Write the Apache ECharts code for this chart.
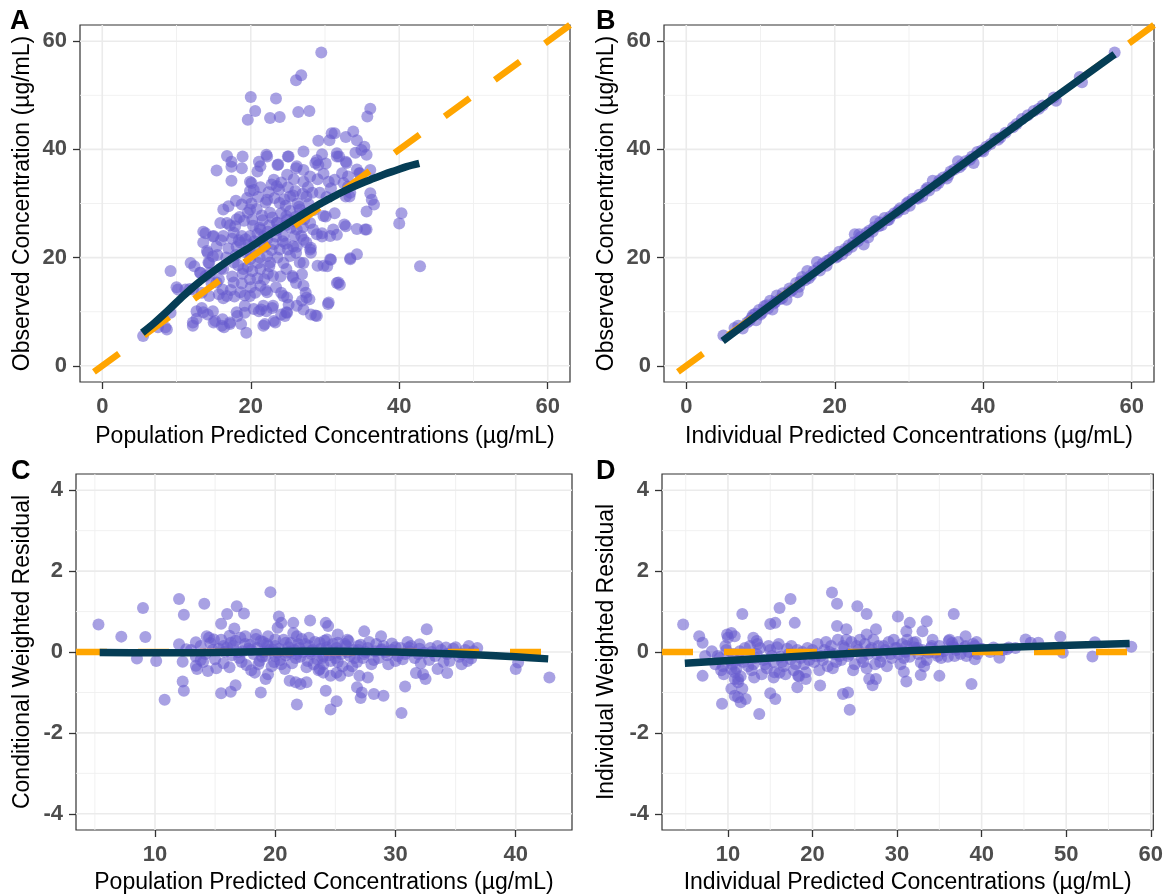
<!DOCTYPE html>
<html><head><meta charset="utf-8">
<script src="https://cdn.jsdelivr.net/npm/echarts@6/dist/echarts.min.js"></script>
<style>html,body{margin:0;padding:0;background:#fff}#c{width:1166px;height:895px}</style>
</head><body><div id="c"></div>
<script>
// ---------- DATA ----------
const ticksAB = [0, 20, 40, 60];
const ticksC_x = [10, 20, 30, 40];
const ticksD_x = [10, 20, 30, 40, 50, 60];
const ticksRes_y = [-4, -2, 0, 2, 4];

// Panel A: PRED vs DV
const pointsA = [
[29.5,57.9],[26.1,52.8],[26.8,53.7],[20.0,49.7],[23.4,49.4],[20.6,47.1],[19.6,45.5],[22.6,45.8],[23.9,46.0],[26.4,46.9],[27.9,47.1],[36.1,47.5],[35.7,46.1],
[29.1,41.6],[30.6,41.7],[31.3,43.0],[32.8,42.3],[33.8,43.3],[34.3,41.7],[35.3,40.5],[34.1,39.4],[35.6,39.0],[34.9,39.9],[31.6,39.3],[31.9,38.7],[32.8,37.7],
[29.6,39.1],[28.9,38.0],[29.1,37.1],[30.1,37.4],[27.1,39.6],[22.1,39.0],[21.1,37.7],[20.9,35.9],[23.6,37.1],[25.0,38.7],[16.8,38.8],[17.4,37.7],[17.4,36.8],
[18.9,38.7],[18.8,36.5],[15.4,36.1],[17.4,34.2],[26.1,36.5],[27.1,36.2],[27.1,34.0],[19.9,34.0],[20.4,32.5],[23.1,34.4],[24.1,33.9],[24.9,35.3],[31.3,34.4],
[32.3,35.6],[33.1,35.0],[34.6,35.6],[36.1,36.2],[32.8,31.3],[33.3,31.3],[33.1,33.1],[36.1,31.9],[36.3,30.7],[36.6,29.8],[35.6,28.5],[40.3,28.2],[40.0,26.3],
[32.6,26.1],[32.8,25.8],[34.3,25.3],[35.6,25.2],[33.4,19.9],[34.3,20.6],[29.0,18.5],[30.3,18.4],[30.8,19.6],[31.6,15.3],[32.0,15.0],[30.5,11.7],[42.8,18.4],
[30.1,27.6],[31.3,28.2],[29.6,24.5],[31.1,25.2],[31.6,24.2],[28.4,25.2],[29.6,23.9],[27.1,23.3],[28.1,21.8],[28.1,20.9],[27.1,19.0],[26.1,20.9],[26.9,16.9],
[25.6,16.6],[26.1,15.3],[27.4,13.5],[27.9,12.3],[26.9,12.0],[27.1,10.4],[28.1,9.5],[28.9,9.2],[24.9,12.6],[25.1,11.3],[24.1,9.5],[24.9,9.8],[24.6,9.2],
[23.1,8.3],[21.7,7.4],[22.9,10.7],[22.1,10.1],[21.1,10.1],[21.4,10.4],[19.4,6.1],[18.7,7.7],[18.2,9.2],[19.2,9.8],[17.2,7.7],[16.4,7.1],[16.2,8.6],[15.2,8.3],
[14.9,10.1],[14.2,9.5],[13.4,10.7],[12.7,10.1],[12.2,8.0],[12.2,7.4],[9.2,17.5],[10.2,14.1],[11.2,14.1],[12.2,14.1],[8.7,6.7],[7.5,7.1],[5.5,5.5],[9.2,9.8],
[11.9,19.0],[12.4,18.4],[13.6,24.8],[13.9,24.5],[14.9,23.9],[14.2,20.9],[14.9,20.2],[14.4,19.0],[13.2,17.2],[13.9,16.6],[14.7,15.3],[15.7,16.0],[13.4,13.5],
[14.4,12.9],[15.7,13.2],[16.2,14.1],[11.8,14.2],[10.0,14.5],[16.3,28.9],[16.8,26.4],[15.0,24.0],[14.1,21.2],[18.8,29.8],[20.1,33.8],[19.9,32.3],[21.3,36.9],
[22.2,38.7],[23.7,37.2],[25.1,38.7],[26.2,36.9],[28.7,37.5],[30.9,43.0],[31.6,38.7],[32.9,37.5],[34.3,36.3],[34.7,35.6],[33.4,32.0],[32.5,33.8],[35.4,25.2],
[30.7,24.0],[28.9,24.3],[30.7,19.7],[29.8,18.5],[31.8,15.4],[30.4,11.4],[33.4,19.7],[28.7,9.3],[27.5,12.6],[24.8,9.9],[23.3,8.0],[21.9,7.7],[23.0,11.1],
[21.7,11.1],[20.4,10.5],[19.2,11.1],[18.1,9.9],[17.2,8.0],[16.1,7.4],[15.0,8.0],[13.6,9.9],[12.7,8.7],[8.5,7.1],[25.7,22.1],[28.0,21.5],[26.6,19.1],
[24.8,17.9],[25.7,16.3],[27.1,14.8],[24.4,12.9],[21.3,14.8],[19.9,16.0],[17.7,15.4],[18.6,13.6],[16.8,12.9],[15.4,15.4],[14.5,17.2],[17.7,19.1],[19.9,19.7],
[22.2,20.3],[23.9,21.5],[18.6,22.8],[16.3,24.0],[21.3,25.2],[23.5,26.4],[24.8,27.7],[26.6,28.9],[27.5,31.3],[29.3,32.0],[25.3,31.3],[23.5,33.2],[22.2,30.7],
[19.9,28.9],[18.1,27.1],[15.9,26.4],[22.6,28.3],[23.9,30.1],[17.7,24.6],[19.9,24.0],[22.2,23.4],[24.4,24.0],[26.2,25.2],[28.0,26.4],[29.8,27.7],[15.4,22.1],
[13.6,22.8],[14.3,19.1],[13.2,17.2],[16.3,17.9],[19.0,17.9],[21.3,17.9],[23.0,16.6],[22.2,13.6],[19.9,12.9],[26.2,11.1],[22.6,19.1],[25.3,20.3],[27.5,22.8],
[17.2,26.0],[18.5,27.5],[19.6,28.3],[20.2,27.0],[20.8,29.0],[21.5,27.8],[22.0,30.2],[23.2,31.0],[24.5,30.8],[25.7,31.5],[26.3,30.0],[27.0,31.8],[28.3,32.0],
[30.2,31.2],[30.8,32.8],[17.5,23.5],[18.1,22.0],[18.8,24.0],[20.5,23.0],[21.2,25.5],[21.8,24.0],[22.5,26.0],[23.6,26.5],[24.9,27.0],[25.4,25.5],[26.0,27.5],
[27.3,28.2],[28.5,28.8],[16.0,18.0],[16.7,20.0],[18.0,20.5],[19.3,21.0],[20.6,21.5],[21.2,20.0],[21.9,22.0],[23.1,22.5],[24.3,23.0],[25.0,21.5],[26.2,22.0],
[26.8,24.0],[17.5,16.5],[18.9,17.0],[20.2,17.5],[20.9,16.2],[22.3,17.0],[24.4,19.0],[16.3,12.5],[17.8,12.8],[19.2,13.0],[20.6,13.5],[22.0,14.0],[23.4,14.5],
[24.1,13.5],[21.3,33.0],[22.8,33.5],[25.0,33.0],[25.8,34.5],[28.0,35.0],[29.0,34.5],[29.8,35.5],[30.5,34.0],[18.0,30.5],[19.5,31.0],[17.0,29.5],
[17.9,25.8],[18.4,23.2],[19.1,26.8],[19.7,22.4],[20.3,25.9],[20.9,24.4],[21.6,26.9],[22.3,24.8],[22.9,27.4],[23.5,25.1],[24.1,28.2],[24.7,26.0],[25.3,28.6],
[25.9,26.7],[26.5,29.4],[27.2,27.1],[27.8,29.9],[20.1,30.0],[21.0,31.2],[22.4,32.1],[23.8,32.6],[24.7,29.6],[26.0,32.3],[27.7,33.0],[19.3,23.4],[20.0,20.8],
[21.5,22.8],[22.8,21.4],[23.4,23.9],[24.7,22.6],[25.9,24.0],[27.0,25.6],[18.3,18.6],[19.6,18.3],[21.0,19.0],[22.5,18.4],[23.6,20.0],[17.0,21.7],[16.0,23.2],
[15.5,20.5],[18.8,15.2],[21.8,16.0],[24.0,16.5],[17.3,14.0],[20.0,14.5]
];
const smoothA = [[5.4,6.1],[7,7.9],[9,10.4],[10.9,12.9],[13,15.4],[15.4,17.9],[17.6,20.0],[19.9,21.9],[22,23.8],[24.4,25.8],[26.6,27.7],
  [28.9,29.6],[30.5,30.8],[32,31.9],[33.5,32.9],[35,33.8],[36.5,34.6],[38,35.4],[39.5,36.1],[41,36.8],[42.7,37.4]];

// Panel B: IPRED vs DV
const pointsB = [
[5.0,5.6],[6.5,7.0],[7.0,7.4],[7.6,6.9],[8.2,8.0],[8.8,8.9],[9.3,9.6],[9.4,8.4],[9.8,10.3],[10.2,9.8],[10.5,11.0],[11.0,10.6],[11.3,12.0],[11.6,10.4],
[11.8,11.5],[12.2,13.0],[12.6,12.3],[13.0,13.4],[13.5,12.2],[13.9,14.3],[14.3,14.0],[14.8,15.3],[15.0,13.6],[15.2,14.6],[15.6,16.4],[16.0,15.8],[16.3,17.5],
[16.8,16.7],[17.2,17.5],[17.6,19.2],[18.0,17.6],[18.4,18.9],[18.9,18.5],[19.3,19.6],[19.8,20.2],[20.2,20.0],[20.6,21.1],[21.0,20.6],[21.4,21.6],[21.9,22.3],
[22.3,22.0],[22.7,24.3],[23.1,23.0],[23.5,23.8],[23.9,22.4],[24.3,24.6],[24.7,25.0],[25.1,24.8],[25.5,26.7],[25.9,25.8],[26.3,26.0],[26.7,27.3],[27.1,26.9],
[27.5,27.6],[28.0,28.2],[28.4,28.3],[28.8,29.1],[29.3,29.0],[29.7,30.0],[30.1,29.6],[30.5,30.9],[31.0,31.0],[31.4,31.6],[31.8,31.3],[32.3,32.6],[32.7,32.4],
[33.2,34.2],[33.6,33.3],[34.1,34.3],[34.6,34.8],[35.1,34.6],[35.6,35.9],[36.1,36.3],[36.6,37.8],[37.1,37.1],[37.6,37.8],[38.2,38.1],[38.7,37.5],[39.2,39.5],
[39.8,39.8],[40.4,40.5],[41.0,41.0],[41.6,42.0],[42.3,42.2],[43.0,43.1],[44.0,44.1],[45.2,45.6],[46.0,46.3],[46.8,47.1],[47.5,47.5],[49.5,49.6],[49.8,49.0],
[53.0,53.4],[53.3,52.4],[57.7,57.9],[8.5,8.3],[9.0,9.4],[10.0,9.5],[10.8,11.2],[12.0,11.8],[12.9,12.5],[14.0,13.7],[15.4,15.6],[16.5,16.2],[17.8,18.2],
[19.0,19.4],[20.4,20.3],[21.6,21.3],[22.5,22.8],[23.3,24.3],[24.5,23.7],[25.3,25.6],[26.1,26.5],[27.3,27.0],[28.6,28.7],[29.9,30.3],[31.2,30.9],[32.5,32.9],
[34.0,33.8],[35.3,35.2],[36.8,36.7],[38.5,38.7],[40.0,39.6],[42.0,41.8],[44.5,44.7],[48.0,48.1]
];
const smoothB = [[4.9,4.6],[15,14.9],[30,30.0],[45,45.0],[57.7,57.6]];

// Panel C: PRED vs CWRES
const pointsC = [
[5.3,0.68],[7.2,0.38],[9.0,1.09],[9.2,0.37],[8.5,-0.16],[10.1,-0.22],[10.8,-1.18],[12.0,1.31],[12.4,0.92],[14.1,1.19],[12.3,-0.73],[12.4,-0.96],[15.5,0.70],
[16.0,0.94],[16.8,1.13],[17.4,0.95],[16.6,0.58],[15.5,-1.02],[16.3,-0.98],[16.7,-0.82],[18.8,-1.0],[19.6,1.48],[20.3,0.88],[20.2,0.60],[20.5,0.72],[21.5,0.72],
[21.5,0.47],[22.9,0.78],[24.2,0.72],[24.4,0.64],[25.2,0.43],[27.4,0.51],[28.8,0.39],[32.6,0.56],[21.2,-0.71],[21.7,-0.75],[22.1,-0.79],[22.6,-0.75],[21.8,-1.30],
[24.2,-0.96],[24.6,-1.42],[25.1,-1.22],[26.8,-0.87],[27.1,-1.14],[27.2,-1.0],[27.0,-0.59],[27.7,-0.63],[28.2,-1.04],[29.0,-1.08],[30.5,-1.51],[30.8,-0.85],
[31.7,-0.52],[32.3,-0.55],[32.5,-0.67],[33.5,-0.42],[34.3,-0.52],[40.0,-0.42],[40.2,-0.26],[42.8,-0.63],[32.8,-0.2],[34.5,-0.22],[35.5,-0.3],[36.3,-0.16],
[36.1,0.15],[34.2,0.11],[32.0,0.19],[31.1,0.11],[29.7,0.21],[28.9,0.07],[26.1,-0.47],[25.1,-0.51],[25.4,-0.59],[23.7,-0.42],[24.0,-0.51],[24.6,-0.59],
[19.4,-0.55],[19.2,-0.67],[18.3,-0.51],[14.4,-0.47],[13.4,-0.34],[13.5,-0.42],[12.3,-0.24],[12.6,0.07],[12.0,0.19],[13.4,0.24],[14.3,0.39],[14.9,0.31],
[15.7,0.15],[16.3,0.23],[17.1,0.35],[17.5,0.39],[18.4,0.43],[18.8,0.27],[19.4,0.39],[20.0,0.31],[20.9,0.23],[21.8,0.39],[22.8,0.35],[23.7,0.23],[24.3,0.31],
[25.2,0.23],[26.1,0.27],[26.9,0.15],
[13.0,0.05],[13.4,-0.12],[13.8,0.15],[14.2,-0.05],[14.6,0.22],[15.0,-0.18],[15.3,0.08],[15.7,-0.28],[16.0,0.12],[16.4,-0.08],[16.7,0.28],[17.0,-0.15],
[17.3,0.02],[17.6,-0.32],[17.9,0.18],[18.2,-0.05],[18.5,0.1],[18.7,-0.22],[19.0,0.25],[19.2,-0.1],[19.5,0.05],[19.7,-0.35],[20.0,0.15],[20.2,-0.02],[20.4,-0.2],
[20.7,0.3],[20.9,-0.08],[21.1,0.12],[21.4,-0.28],[21.6,0.05],[21.9,0.2],[22.1,-0.12],[22.3,0.0],[22.6,-0.38],[22.8,0.15],[23.0,-0.05],[23.3,0.25],[23.5,-0.18],
[23.8,0.08],[24.0,-0.3],[24.3,0.12],[24.5,-0.08],[24.8,0.2],[25.0,-0.15],[25.3,0.02],[25.6,-0.35],[25.9,0.15],[26.2,-0.1],[26.5,0.05],[26.8,-0.25],[27.1,0.18],
[27.4,-0.05],[27.7,0.1],[28.0,-0.3],[28.3,0.02],[28.6,-0.15],[29.0,0.15],[29.3,-0.08],[29.7,0.05],[30.0,-0.22],[30.4,0.1],[30.8,-0.05],[31.2,0.02],[31.6,-0.15],
[32.0,0.08],[32.4,-0.02],[32.9,0.1],[33.3,-0.1],[33.8,0.05],[34.3,-0.05],[34.8,0.08],[35.3,-0.12],[35.8,0.05],[36.3,-0.05],[36.8,0.1],[36.0,-0.22],
[14.0,-0.25],[14.8,0.05],[15.5,0.3],[16.2,-0.38],[16.9,0.0],[17.5,0.2],[18.0,-0.45],[18.4,0.32],[18.9,-0.12],[19.4,0.15],[19.9,-0.25],[20.3,0.08],[20.8,-0.42],
[21.3,0.22],[21.7,-0.15],[22.2,0.32],[22.7,-0.22],[23.1,0.05],[23.6,-0.45],[24.1,0.28],[24.6,-0.22],[25.1,0.1],[25.5,-0.05],[26.0,0.3],[26.4,-0.35],[26.9,0.05],
[27.3,-0.15],[27.8,0.25],[28.2,-0.2],[28.8,0.05],[29.4,-0.3],[30.0,0.12],[30.6,-0.18],[31.3,0.15],[32.1,-0.28],[33.0,0.0],[34.0,-0.25],[35.0,0.12],[19.0,0.0],
[21.0,-0.02],[23.0,0.02],[25.0,-0.02],[20.0,-0.1],[22.0,0.1],[24.0,-0.1],[18.0,0.05],[26.0,0.0],
[15.8,0.0],[16.5,0.15],[17.2,-0.25],[17.8,0.08],[18.6,-0.3],[19.3,0.2],[19.8,0.05],[20.5,-0.3],[21.2,0.0],[21.8,-0.05],[22.5,0.2],[23.2,-0.3],[23.9,-0.15],
[24.4,0.05],[25.2,-0.25],[25.8,0.2],[26.6,-0.15],[27.5,0.0],[28.4,0.2],[29.2,0.0],[30.2,-0.1],[31.0,0.25],[31.9,-0.05],[33.5,0.15],[35.5,-0.05],[36.5,0.02],
[13.8,-0.2],[14.5,0.35],[15.1,-0.4],[16.2,0.4]
];
const smoothC = [[5.4,-0.01],[10,-0.02],[15,-0.01],[20,0.01],[25,0.02],[30,0.0],[35,-0.05],[40,-0.12],[42.7,-0.17]];

// Panel D: IPRED vs IWRES
const pointsD = [
[4.7,0.68],[6.6,0.39],[7.0,0.23],[7.0,-0.59],[9.3,-1.28],[9.9,0.43],[10.4,0.47],[10.8,0.39],[11.7,0.94],[9.7,0.15],[8.8,-0.1],[7.3,-0.1],[8.1,0.02],
[10.4,-0.42],[10.8,-0.67],[11.2,-0.75],[10.4,-0.91],[10.8,-1.08],[11.2,-1.12],[12.1,-1.16],[11.7,-0.91],[11.2,-0.67],[11.5,-1.24],[13.0,0.35],[13.4,0.27],
[13.1,-0.63],[13.7,-1.53],[15.0,-1.02],[15.6,-1.16],[15.0,0.69],[15.6,0.72],[16.1,1.09],[17.4,1.31],[17.9,0.72],[18.2,-0.87],[15.4,-0.63],[16.1,-0.51],
[19.2,-0.67],[18.3,-0.59],[20.9,-0.83],[22.3,1.47],[22.9,1.19],[22.9,0.64],[24.0,0.56],[23.6,-1.04],[24.2,-1.0],[24.4,-1.43],[25.3,1.13],[26.4,0.94],
[26.4,0.43],[27.5,0.56],[26.7,-0.67],[27.1,-0.82],[27.5,-0.67],[30.1,0.88],[31.1,0.51],[31.5,0.72],[30.8,-0.49],[31.1,-0.73],[32.8,-0.57],[33.0,0.51],
[33.5,0.76],[35.0,-0.59],[36.7,0.94],[38.1,0.39],[38.8,-0.79],[39.2,-0.18],[42.1,-0.14],[43.2,0.11],[45.2,0.31],[45.8,0.23],[46.7,0.23],[49.3,0.38],
[49.6,-0.02],[53.1,-0.11],[53.4,0.24],[57.7,0.13],[36.1,0.27],[36.6,0.15],[36.8,-0.1],[38.1,0.15],[39.2,0.15],[39.9,0.07],[41.4,0.11],[43.0,0.07],
[32.8,-0.26],[33.7,-0.02],[34.1,0.15],[31.9,0.23],[31.1,0.15],
[8.5,-0.3],[9.0,-0.15],[9.4,-0.35],[9.8,0.05],[10.2,-0.2],[10.6,-0.05],[11.0,-0.4],[11.4,0.02],[11.8,-0.25],[12.2,-0.1],[12.6,0.15],[13.0,-0.3],[13.4,-0.05],
[13.8,0.1],[14.2,-0.2],[14.6,-0.4],[15.0,0.05],[15.4,-0.25],[15.8,0.12],[16.2,-0.12],[16.6,-0.35],[17.0,0.08],[17.4,-0.18],[17.8,-0.45],[18.2,0.05],[18.6,-0.15],
[19.0,-0.3],[19.4,0.1],[19.8,-0.05],[20.2,-0.25],[20.6,0.2],[21.0,-0.1],[21.4,0.05],[21.8,-0.35],[22.2,0.15],[22.6,-0.05],[23.0,0.3],[23.4,-0.2],[23.8,0.1],
[24.2,-0.1],[24.6,0.25],[25.0,-0.3],[25.4,0.05],[25.8,-0.15],[26.2,0.2],[26.6,-0.05],[27.0,0.1],[27.4,-0.3],[27.8,0.15],[28.2,-0.1],[28.6,0.05],[29.0,0.25],
[29.4,-0.15],[29.8,0.1],[30.2,-0.05],[30.6,0.2],[31.0,0.0],[31.5,-0.12],[32.0,0.12],[32.5,-0.05],[33.0,0.05],[33.5,-0.2],[34.0,0.1],[34.5,-0.02],[35.0,0.15],
[35.5,0.02],[36.0,-0.12],[36.5,0.22],[37.0,0.05],[37.5,-0.05],[38.0,0.12],[38.5,0.0],[39.0,0.2],[39.5,-0.05],[40.0,0.08],[41.0,0.0],[42.5,0.05],[44.0,0.1],
[9.5,-0.55],[10.0,0.35],[10.8,-0.5],[11.5,-0.6],[12.0,0.1],[12.8,-0.45],[13.5,0.2],[14.0,-0.55],[14.8,0.15],[15.5,-0.5],[16.0,0.2],[16.8,-0.55],[17.5,0.15],
[18.4,-0.6],[19.2,-0.5],[20.0,0.05],[20.8,-0.45],[21.6,0.25],[22.4,-0.4],[23.2,-0.1],[24.0,0.3],[24.8,-0.45],[25.6,0.3],[26.4,-0.4],[27.2,0.3],[28.0,-0.25],
[28.8,-0.35],[29.6,0.3],[30.4,-0.3],[31.2,0.3],[32.2,0.25],[33.2,-0.35],[34.2,0.3],[35.2,-0.15],[36.2,0.3],[37.2,0.25],[38.2,-0.1],[39.4,0.25],
[9.2,-0.45],[10.5,-0.3],[11.3,-0.2],[12.4,-0.35],[13.2,-0.15],[14.4,-0.3],[15.2,-0.1],[16.4,-0.25],[17.2,-0.05],[18.0,-0.3],[18.8,0.0],[19.6,-0.2],[20.4,-0.1],
[21.2,-0.2],[22.0,0.0],[22.8,-0.25],[23.6,0.15],[24.4,-0.05],[25.2,0.15],[26.0,-0.25],[26.8,0.05],[27.6,-0.05],[28.4,0.15],[29.2,-0.05],[30.0,0.1],[30.8,-0.15],
[32.4,0.1],[34.8,-0.1],[36.8,0.1]
];
const smoothD = [[4.9,-0.28],[15,-0.15],[25,-0.03],[35,0.06],[45,0.13],[57.5,0.21]];

// Axis extents (ggplot-style expanded ranges)
const rangeAB = [-3, 63];
const rangeC_x = [3.43, 44.68];
const rangeD_x = [2.2, 60.3];
const rangeRes_y = [-4.4, 4.4];

// reference lines
const refA = [[63,63],[-3,-3]];
const refB = [[63,63],[-3,-3]];
const refC = [[3.43,0],[44.68,0]];
const refD = [[2.2,0],[60.3,0]];

// grid lines (major / minor)
const gridAB_major = [0,20,40,60], gridAB_minor = [10,30,50];
const gridC_xMajor = [10,20,30,40], gridC_xMinor = [5,15,25,35];
const gridD_xMajor = [10,20,30,40,50,60], gridD_xMinor = [5,15,25,35,45,55];
const gridRes_yMajor = [-4,-2,0,2,4], gridRes_yMinor = [-3,-1,1,3];

// ---------- STYLE / OPTION ----------
const FONT = '"Liberation Sans", Arial, sans-serif';
const PT_COLOR = 'rgba(104,92,206,0.72)';
const LOESS_COLOR = '#053D55';
const REF_COLOR = '#FFA500';

function xAxis(i, range, ticks, name, gap) {
  return {
    type: 'value', gridIndex: i, min: range[0], max: range[1],
    name: name, nameLocation: 'middle', nameGap: gap,
    nameTextStyle: {fontFamily: FONT, fontSize: 23, color: '#000'},
    axisLine: {show: false, onZero: false},
    axisTick: {show: true, length: 7, customValues: ticks, lineStyle: {color: '#333', width: 1.3}},
    axisLabel: {customValues: ticks, margin: 14, fontFamily: FONT, fontSize: 22, fontWeight: 'bold', color: '#4D4D4D'},
    splitLine: {show: false}
  };
}
function yAxis(i, range, ticks, name, gap) {
  return {
    type: 'value', gridIndex: i, min: range[0], max: range[1],
    name: name, nameLocation: 'middle', nameGap: gap,
    nameTextStyle: {fontFamily: FONT, fontSize: 23, color: '#000'},
    axisLine: {show: false, onZero: false},
    axisTick: {show: true, length: 7, customValues: ticks, lineStyle: {color: '#333', width: 1.3}},
    axisLabel: {customValues: ticks, margin: 13, fontFamily: FONT, fontSize: 22, fontWeight: 'bold', color: '#4D4D4D'},
    splitLine: {show: false}
  };
}
// grid lines drawn as broken line series underneath the marks
function gridLineSeries(i, xs, ys, xRange, yRange, width, color) {
  const d = [];
  xs.forEach(v => { d.push([v, yRange[0]], [v, yRange[1]], ['-', '-']); });
  ys.forEach(v => { d.push([xRange[0], v], [xRange[1], v], ['-', '-']); });
  return {type: 'line', xAxisIndex: i, yAxisIndex: i, data: d, showSymbol: false, symbol: 'none',
    connectNulls: false, silent: true, z: 0, lineStyle: {color: color, width: width}};
}
function pts(i, data) {
  return {type: 'scatter', xAxisIndex: i, yAxisIndex: i, data: data, symbolSize: 12, z: 2,
    itemStyle: {color: PT_COLOR}, silent: true};
}
function ref(i, data) {
  return {type: 'line', xAxisIndex: i, yAxisIndex: i, data: data, showSymbol: false, symbol: 'none', z: 3,
    lineStyle: {color: REF_COLOR, width: 6.5, type: [31, 31], cap: 'butt'}, silent: true};
}
function smooth(i, data) {
  return {type: 'line', xAxisIndex: i, yAxisIndex: i, data: data, showSymbol: false, symbol: 'none', z: 4,
    smooth: 0.3, lineStyle: {color: LOESS_COLOR, width: 7.5, cap: 'butt'}, silent: true};
}
const gridBase = {show: true, borderColor: '#333333', borderWidth: 1.2, backgroundColor: 'transparent', containLabel: false};

const option = {
  animation: false,
  backgroundColor: '#ffffff',
  grid: [
    Object.assign({left: 80, top: 25, width: 490, height: 357}, gridBase),
    Object.assign({left: 664, top: 25, width: 490, height: 357}, gridBase),
    Object.assign({left: 76, top: 474, width: 496, height: 358}, gridBase),
    Object.assign({left: 662, top: 474, width: 492, height: 358}, gridBase)
  ],
  xAxis: [
    xAxis(0, rangeAB, ticksAB, 'Population Predicted Concentrations (µg/mL)', 43),
    xAxis(1, rangeAB, ticksAB, 'Individual Predicted Concentrations (µg/mL)', 43),
    xAxis(2, rangeC_x, ticksC_x, 'Population Predicted Concentrations (µg/mL)', 41),
    xAxis(3, rangeD_x, ticksD_x, 'Individual Predicted Concentrations (µg/mL)', 41)
  ],
  yAxis: [
    yAxis(0, rangeAB, ticksAB, 'Observed Concentration (µg/mL)', 46),
    yAxis(1, rangeAB, ticksAB, 'Observed Concentration (µg/mL)', 46),
    yAxis(2, rangeRes_y, ticksRes_y, 'Conditional Weighted Residual', 42),
    yAxis(3, rangeRes_y, ticksRes_y, 'Individual Weighted Residual', 44)
  ],
  graphic: [
    {type: 'text', left: 10, top: 8, style: {text: 'A', font: 'bold 27px ' + FONT, fill: '#000'}},
    {type: 'text', left: 596, top: 8, style: {text: 'B', font: 'bold 27px ' + FONT, fill: '#000'}},
    {type: 'text', left: 11, top: 458, style: {text: 'C', font: 'bold 27px ' + FONT, fill: '#000'}},
    {type: 'text', left: 596, top: 458, style: {text: 'D', font: 'bold 27px ' + FONT, fill: '#000'}}
  ],
  series: [
    gridLineSeries(0, gridAB_minor, gridAB_minor, rangeAB, rangeAB, 0.9, '#EFEFEF'),
    gridLineSeries(0, gridAB_major, gridAB_major, rangeAB, rangeAB, 1.6, '#EBEBEB'),
    gridLineSeries(1, gridAB_minor, gridAB_minor, rangeAB, rangeAB, 0.9, '#EFEFEF'),
    gridLineSeries(1, gridAB_major, gridAB_major, rangeAB, rangeAB, 1.6, '#EBEBEB'),
    gridLineSeries(2, gridC_xMinor, gridRes_yMinor, rangeC_x, rangeRes_y, 0.9, '#EFEFEF'),
    gridLineSeries(2, gridC_xMajor, gridRes_yMajor, rangeC_x, rangeRes_y, 1.6, '#EBEBEB'),
    gridLineSeries(3, gridD_xMinor, gridRes_yMinor, rangeD_x, rangeRes_y, 0.9, '#EFEFEF'),
    gridLineSeries(3, gridD_xMajor, gridRes_yMajor, rangeD_x, rangeRes_y, 1.6, '#EBEBEB'),
    pts(0, pointsA), pts(1, pointsB), pts(2, pointsC), pts(3, pointsD),
    ref(0, refA), ref(1, refB), ref(2, refC), ref(3, refD),
    smooth(0, smoothA), smooth(1, smoothB), smooth(2, smoothC), smooth(3, smoothD)
  ]
};
const chart = echarts.init(document.getElementById('c'));
chart.setOption(option);
</script>
</body></html>
